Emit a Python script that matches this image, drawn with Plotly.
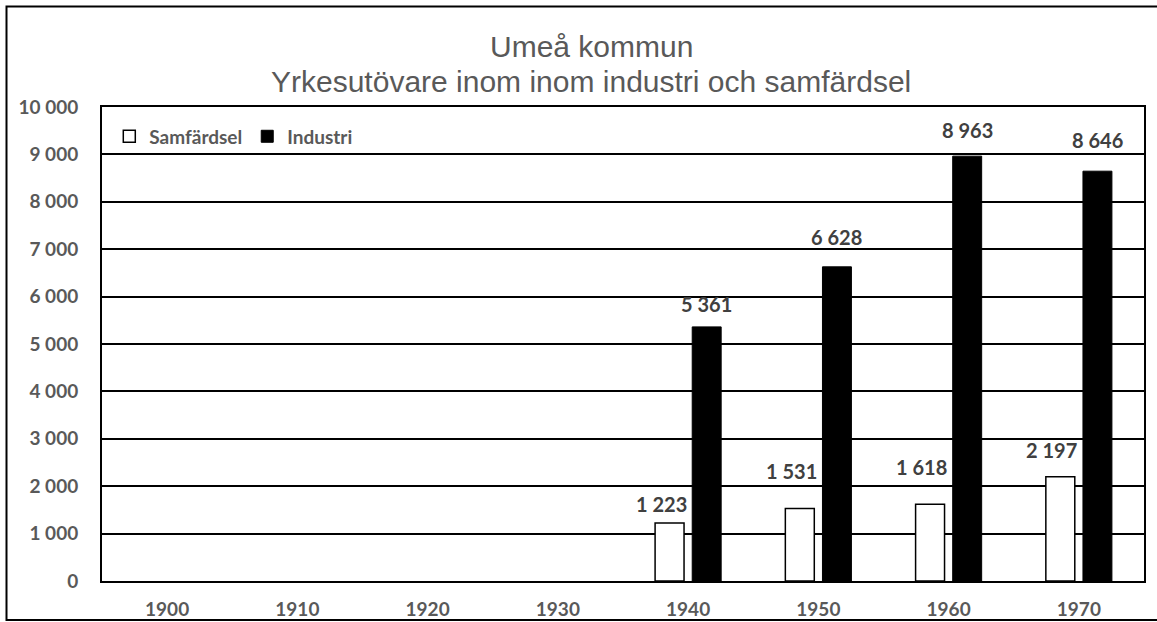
import plotly.graph_objects as go

years = ["1900", "1910", "1920", "1930", "1940", "1950", "1960", "1970"]
samfardsel = [None, None, None, None, 1223, 1531, 1618, 2197]
industri = [None, None, None, None, 5361, 6628, 8963, 8646]
y_ticks = [0, 1000, 2000, 3000, 4000, 5000, 6000, 7000, 8000, 9000, 10000]
title_lines = ["Umeå kommun", "Yrkesutövare inom inom industri och samfärdsel"]

# label placement styling (pixel gap between bar top and label centre)
samf_label_gap = [0, 0, 0, 0, 19, 37, 37, 27]
ind_label_gap = [0, 0, 0, 0, 23, 30, 26, 31]

FONT = "Lato, Carlito, sans-serif"

fig = go.Figure()
fig.add_trace(go.Bar(
    name="Samfärdsel", x=years, y=samfardsel,
    marker=dict(color="white", line=dict(color="black", width=1.5)),
))
fig.add_trace(go.Bar(
    name="Industri", x=years, y=industri,
    marker=dict(color="black", line=dict(color="black", width=1)),
))


def fmt(v):
    return f"{v:,}".replace(",", " ")


annotations = []
for series, xs, gaps in ((samfardsel, -27, samf_label_gap), (industri, 18.5, ind_label_gap)):
    for i, v in enumerate(series):
        if v is None:
            continue
        annotations.append(dict(
            x=i, y=v, xref="x", yref="y", text=f"<b>{fmt(v)}</b>", showarrow=False,
            xshift=xs, yshift=gaps[i], yanchor="middle", xanchor="center",
            font=dict(family=FONT, size=20, color="#404040"),
        ))

# title lines (pixel positions converted to paper coords of the 1042x474 plot at (102,107))
for txt, ypix in zip(title_lines, (47, 81)):
    annotations.append(dict(
        x=(591 - 102) / 1042, y=(581 - ypix) / 474, xref="paper", yref="paper",
        text=txt, showarrow=False, xanchor="center", yanchor="middle",
        font=dict(family="Liberation Sans, Arial, sans-serif", size=30, color="#595959"),
    ))

tick_font = dict(family=FONT, size=19, color="#595959", weight="bold")

fig.update_layout(
    width=1157, height=622,
    margin=dict(l=102, r=13, t=107, b=41, autoexpand=False),
    paper_bgcolor="white", plot_bgcolor="white",
    separators=", ",
    barmode="group", bargap=0.43, bargroupgap=0.22,
    legend=dict(
        orientation="h", x=0.007, y=0.978, xanchor="left", yanchor="top",
        font=dict(family=FONT, size=19, color="#595959", weight="bold"),
        bgcolor="rgba(0,0,0,0)", itemwidth=30, traceorder="normal",
    ),
    showlegend=True,
    annotations=annotations,
)
fig.update_xaxes(
    type="category", range=[-0.5, len(years) - 0.5],
    showline=True, linecolor="black", linewidth=2, mirror=True,
    showgrid=False, tickfont=tick_font, ticks="", ticklabelstandoff=10, automargin=False,
)
fig.update_yaxes(
    range=[0, 10000], tickvals=y_ticks, tickformat=",",
    showline=True, linecolor="black", linewidth=2, mirror=True,
    showgrid=True, gridcolor="black", gridwidth=1.5,
    tickfont=tick_font, ticks="", ticklabelstandoff=18, zeroline=False, automargin=False,
)
# outer chart frame
fig.add_shape(type="rect", xref="paper", yref="paper",
              x0=-95.5 / 1042, x1=1.02, y0=-39 / 474, y1=1 + 100.5 / 474,
              line=dict(color="black", width=2), fillcolor="rgba(0,0,0,0)", layer="above")

fig.write_html("out.html", config={"displayModeBar": False},
               post_script="document.body.style.margin='0';")
